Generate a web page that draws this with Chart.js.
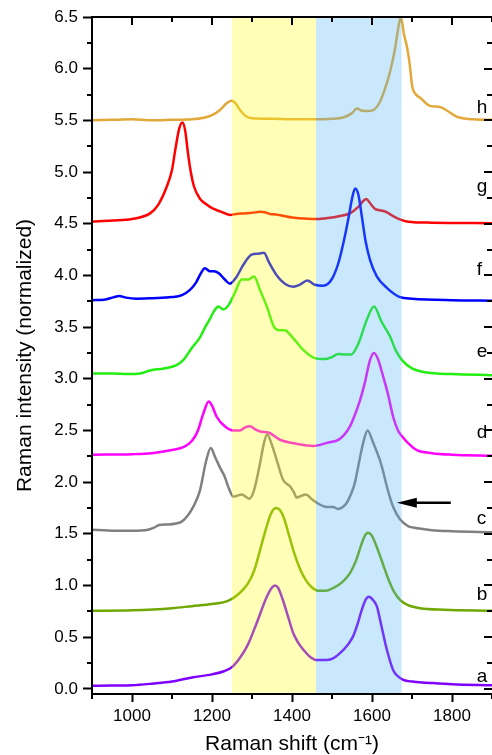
<!DOCTYPE html>
<html>
<head>
<meta charset="utf-8">
<script src="https://cdn.jsdelivr.net/npm/chart.js@4.4.0/dist/chart.umd.min.js"></script>
<style>
  html, body { margin: 0; padding: 0; background: #fff; }
  #wrap { width: 492px; height: 755px; }
</style>
</head>
<body>
<div id="wrap"><canvas id="ramanChart" width="492" height="755"></canvas></div>
<script>
// Raman spectra, [shift (cm-1), normalized intensity]
const spectrumA = [[900,0.03],[950,0.032],[1000,0.035],[1050,0.05],[1100,0.07],[1150,0.11],[1200,0.14],[1230,0.17],[1250,0.21],[1270,0.30],[1290,0.43],[1312,0.64],[1337,0.89],[1350,0.98],[1357,1.00],[1365,0.98],[1378,0.85],[1390,0.70],[1403,0.54],[1415,0.45],[1428,0.38],[1445,0.31],[1460,0.28],[1487,0.28],[1505,0.30],[1520,0.345],[1540,0.43],[1553,0.51],[1565,0.64],[1574,0.76],[1584,0.86],[1592,0.89],[1600,0.87],[1612,0.80],[1624,0.60],[1637,0.38],[1653,0.18],[1665,0.12],[1678,0.087],[1700,0.07],[1737,0.06],[1800,0.045],[1900,0.035]];
const spectrumB = [[900,0.755],[1000,0.76],[1100,0.78],[1150,0.80],[1200,0.82],[1240,0.85],[1270,0.93],[1290,1.02],[1305,1.14],[1320,1.34],[1335,1.55],[1348,1.70],[1360,1.75],[1370,1.73],[1380,1.65],[1393,1.48],[1405,1.32],[1420,1.16],[1435,1.05],[1450,0.98],[1465,0.95],[1485,0.95],[1505,0.98],[1525,1.03],[1545,1.12],[1560,1.24],[1572,1.38],[1582,1.48],[1590,1.51],[1598,1.49],[1606,1.43],[1616,1.33],[1628,1.20],[1640,1.07],[1655,0.94],[1670,0.86],[1690,0.81],[1720,0.78],[1780,0.765],[1900,0.755]];
const spectrumC = [[900,1.54],[930,1.535],[960,1.53],[1000,1.53],[1040,1.54],[1055,1.56],[1068,1.585],[1090,1.59],[1110,1.60],[1125,1.62],[1140,1.68],[1153,1.76],[1170,1.92],[1185,2.20],[1197,2.33],[1208,2.24],[1220,2.14],[1232,2.05],[1243,1.93],[1253,1.86],[1264,1.87],[1274,1.88],[1284,1.86],[1293,1.84],[1305,1.92],[1320,2.18],[1330,2.38],[1338,2.46],[1348,2.38],[1362,2.21],[1378,2.02],[1395,1.96],[1405,1.90],[1412,1.85],[1425,1.87],[1435,1.88],[1448,1.84],[1462,1.80],[1487,1.76],[1503,1.76],[1516,1.74],[1527,1.76],[1537,1.80],[1547,1.88],[1557,1.99],[1568,2.20],[1578,2.38],[1589,2.50],[1603,2.38],[1620,2.21],[1628,2.10],[1637,1.96],[1645,1.85],[1653,1.76],[1670,1.64],[1690,1.575],[1703,1.56],[1750,1.535],[1800,1.525],[1900,1.515]];
const spectrumD = [[900,2.265],[1000,2.27],[1050,2.28],[1100,2.31],[1130,2.34],[1150,2.40],[1165,2.50],[1178,2.66],[1192,2.78],[1200,2.74],[1212,2.63],[1232,2.54],[1253,2.50],[1270,2.50],[1283,2.53],[1295,2.54],[1308,2.51],[1320,2.49],[1341,2.48],[1370,2.41],[1412,2.37],[1453,2.35],[1487,2.38],[1520,2.42],[1545,2.54],[1560,2.68],[1570,2.79],[1582,2.96],[1595,3.18],[1605,3.25],[1615,3.19],[1628,3.02],[1640,2.85],[1653,2.63],[1665,2.50],[1678,2.43],[1695,2.36],[1712,2.31],[1750,2.28],[1800,2.265],[1900,2.255]];
const spectrumE = [[900,3.05],[950,3.05],[990,3.045],[1020,3.05],[1045,3.08],[1080,3.10],[1110,3.13],[1128,3.18],[1150,3.30],[1170,3.40],[1183,3.50],[1195,3.58],[1206,3.66],[1216,3.70],[1228,3.67],[1241,3.71],[1257,3.83],[1274,3.96],[1291,3.96],[1305,3.99],[1320,3.86],[1337,3.70],[1357,3.49],[1370,3.47],[1382,3.47],[1399,3.41],[1428,3.28],[1457,3.20],[1482,3.19],[1500,3.21],[1516,3.24],[1532,3.235],[1548,3.235],[1566,3.34],[1587,3.57],[1605,3.70],[1624,3.55],[1645,3.41],[1660,3.27],[1675,3.18],[1700,3.10],[1737,3.06],[1800,3.045],[1900,3.035]];
const spectrumF = [[900,3.76],[930,3.765],[955,3.79],[968,3.80],[985,3.785],[1010,3.775],[1050,3.78],[1100,3.79],[1125,3.81],[1145,3.86],[1160,3.93],[1172,4.02],[1182,4.07],[1195,4.04],[1205,4.04],[1217,4.02],[1232,3.96],[1245,3.92],[1262,3.99],[1278,4.10],[1299,4.20],[1316,4.21],[1330,4.22],[1342,4.13],[1362,4.00],[1382,3.92],[1403,3.89],[1420,3.91],[1438,3.95],[1457,3.91],[1478,3.90],[1499,3.96],[1516,4.12],[1530,4.34],[1541,4.55],[1551,4.76],[1558,4.84],[1566,4.78],[1575,4.56],[1584,4.33],[1595,4.15],[1612,3.99],[1637,3.88],[1670,3.79],[1700,3.775],[1800,3.76],[1900,3.755]];
const spectrumG = [[900,4.52],[950,4.53],[1000,4.545],[1045,4.60],[1065,4.68],[1087,4.86],[1100,5.02],[1108,5.21],[1118,5.42],[1126,5.48],[1133,5.40],[1140,5.18],[1147,5.00],[1155,4.86],[1170,4.74],[1185,4.69],[1200,4.65],[1220,4.62],[1245,4.585],[1260,4.595],[1280,4.60],[1300,4.605],[1320,4.615],[1332,4.61],[1345,4.595],[1360,4.59],[1380,4.575],[1400,4.56],[1430,4.55],[1460,4.545],[1490,4.555],[1520,4.575],[1545,4.60],[1565,4.66],[1578,4.72],[1586,4.74],[1595,4.70],[1607,4.645],[1620,4.63],[1635,4.615],[1650,4.58],[1668,4.545],[1690,4.52],[1750,4.51],[1900,4.505]];
const spectrumH = [[900,5.50],[950,5.505],[1000,5.51],[1050,5.50],[1100,5.505],[1150,5.51],[1180,5.525],[1200,5.55],[1220,5.60],[1235,5.66],[1248,5.69],[1258,5.67],[1270,5.60],[1285,5.54],[1300,5.52],[1350,5.515],[1400,5.51],[1450,5.51],[1500,5.515],[1530,5.53],[1550,5.57],[1562,5.615],[1573,5.595],[1587,5.59],[1603,5.60],[1620,5.68],[1637,5.86],[1647,6.00],[1657,6.18],[1665,6.38],[1672,6.50],[1680,6.33],[1688,6.20],[1695,6.02],[1700,5.84],[1710,5.75],[1720,5.72],[1745,5.64],[1770,5.63],[1785,5.60],[1812,5.535],[1853,5.51],[1900,5.505]];

const traceLabels = ['a', 'b', 'c', 'd', 'e', 'f', 'g', 'h'];
const labelBaselines = [0.07, 0.86, 1.59, 2.43, 3.21, 4.00, 4.81, 5.57];
const labelShift = 1862;

const xTicks = [1000, 1200, 1400, 1600, 1800];
const xMinorTicks = [900, 1100, 1300, 1500, 1700, 1900];
const yTicks = [0, 0.5, 1, 1.5, 2, 2.5, 3, 3.5, 4, 4.5, 5, 5.5, 6, 6.5];
const yMinorTicks = [0.25, 0.75, 1.25, 1.75, 2.25, 2.75, 3.25, 3.75, 4.25, 4.75, 5.25, 5.75, 6.25];

const yellowBand = [1250, 1460];
const blueBand = [1460, 1674];
const arrowStart = [1797, 1.80];
const arrowEnd = [1662, 1.80];

const traceColors = ['#8000FF', '#6FA800', '#808080', '#FF00FF', '#22EE11', '#0000FF', '#FF0000', '#E2A93A'];
const fontFamily = "'Liberation Sans', Arial, Helvetica, sans-serif";

const allSpectra = [spectrumA, spectrumB, spectrumC, spectrumD, spectrumE, spectrumF, spectrumG, spectrumH];

function line(ctx, x1, y1, x2, y2) {
    ctx.beginPath();
    ctx.moveTo(x1, y1);
    ctx.lineTo(x2, y2);
    ctx.stroke();
}

// bands, trace letters and the arrow go on top of the traces
const decorPlugin = {
    id: 'decor',
    afterDatasetsDraw(chart) {
        const { ctx, chartArea: area, scales: { x, y } } = chart;
        ctx.save();
        const h = area.bottom - area.top;
        let x0 = x.getPixelForValue(yellowBand[0]);
        let x1 = x.getPixelForValue(yellowBand[1]);
        ctx.fillStyle = 'rgba(255, 255, 20, 0.3)';
        ctx.fillRect(x0, area.top, x1 - x0, h);
        x0 = x.getPixelForValue(blueBand[0]);
        x1 = x.getPixelForValue(blueBand[1]);
        ctx.fillStyle = 'rgba(75, 178, 242, 0.3)';
        ctx.fillRect(x0, area.top, x1 - x0, h);

        ctx.fillStyle = '#000';
        ctx.font = '19px ' + fontFamily;
        ctx.textAlign = 'left';
        ctx.textBaseline = 'alphabetic';
        traceLabels.forEach((t, i) => {
            ctx.fillText(t, x.getPixelForValue(labelShift), y.getPixelForValue(labelBaselines[i]));
        });

        // arrow pointing at trace c
        const ax = x.getPixelForValue(arrowStart[0]);
        const bx = x.getPixelForValue(arrowEnd[0]);
        const ay = y.getPixelForValue(arrowStart[1]);
        ctx.strokeStyle = '#000';
        ctx.lineWidth = 2.5;
        line(ctx, ax, ay, bx + 15, ay);
        ctx.beginPath();
        ctx.moveTo(bx, ay);
        ctx.lineTo(bx + 20, ay - 5);
        ctx.lineTo(bx + 20, ay + 5);
        ctx.closePath();
        ctx.fill();
        ctx.restore();
    },
    afterDraw(chart) {
        const { ctx, chartArea: area, scales: { x, y } } = chart;
        ctx.save();
        ctx.strokeStyle = '#000';
        ctx.lineWidth = 2;
        // frame
        line(ctx, area.left - 1, area.top, area.right, area.top);
        line(ctx, area.left - 1, area.bottom, area.right, area.bottom);
        line(ctx, area.left, area.top - 1, area.left, area.bottom + 1);
        xTicks.forEach(v => {
            const px = Math.round(x.getPixelForValue(v));
            line(ctx, px, area.top, px, area.top + 8);
        });
        xMinorTicks.forEach(v => {
            const px = Math.round(x.getPixelForValue(v));
            line(ctx, px, area.top, px, area.top + 5);
            line(ctx, px, area.bottom, px, area.bottom + 5);
        });
        yTicks.forEach(v => {
            const py = Math.round(y.getPixelForValue(v));
            line(ctx, area.right - 8, py, area.right, py);
        });
        yMinorTicks.forEach(v => {
            const py = Math.round(y.getPixelForValue(v));
            line(ctx, area.right - 5, py, area.right, py);
            line(ctx, area.left - 5, py, area.left, py);
        });
        ctx.restore();
    }
};

function createRamanChart() {
    const ctx = document.getElementById('ramanChart').getContext('2d');
    return new Chart(ctx, {
        type: 'line',
        data: {
            datasets: allSpectra.map((s, i) => ({
                label: traceLabels[i],
                data: s.map(p => ({ x: p[0], y: p[1] })),
                borderColor: traceColors[i],
                borderWidth: 2.5,
                pointRadius: 0,
                fill: false,
                cubicInterpolationMode: 'monotone'
            }))
        },
        options: {
            responsive: false,
            animation: false,
            layout: { padding: { top: 17, right: 0, left: 0, bottom: 0 } },
            plugins: { legend: { display: false }, tooltip: { enabled: false } },
            scales: {
                x: {
                    type: 'linear',
                    min: 900,
                    max: 1900,
                    afterBuildTicks: s => { s.ticks = xTicks.map(v => ({ value: v })); },
                    afterFit: s => { s.height = 61; },
                    ticks: { color: '#000', padding: 4, maxRotation: 0, font: { family: fontFamily, size: 17 }, callback: v => String(v) },
                    grid: { drawOnChartArea: false, tickLength: 8, tickWidth: 2, tickColor: '#000' },
                    border: { color: '#000', width: 2 },
                    title: {
                        display: true,
                        text: 'Raman shift (cm⁻¹)',
                        color: '#000',
                        padding: { top: 0, bottom: 0 },
                        font: { family: fontFamily, size: 21, lineHeight: 1 }
                    }
                },
                y: {
                    min: -0.05,
                    max: 6.5,
                    afterBuildTicks: s => { s.ticks = yTicks.map(v => ({ value: v })); },
                    afterFit: s => { s.width = 92; },
                    ticks: { color: '#000', padding: 5, font: { family: fontFamily, size: 17 }, callback: v => v.toFixed(1) },
                    grid: { drawOnChartArea: false, tickLength: 9, tickWidth: 2, tickColor: '#000' },
                    border: { color: '#000', width: 2 },
                    title: {
                        display: true,
                        text: 'Raman intensity (normalized)',
                        color: '#000',
                        padding: { top: 13, bottom: 0 },
                        font: { family: fontFamily, size: 21, lineHeight: 1.2 }
                    }
                }
            }
        },
        plugins: [decorPlugin]
    });
}

let chart = createRamanChart();
</script>
</body>
</html>
